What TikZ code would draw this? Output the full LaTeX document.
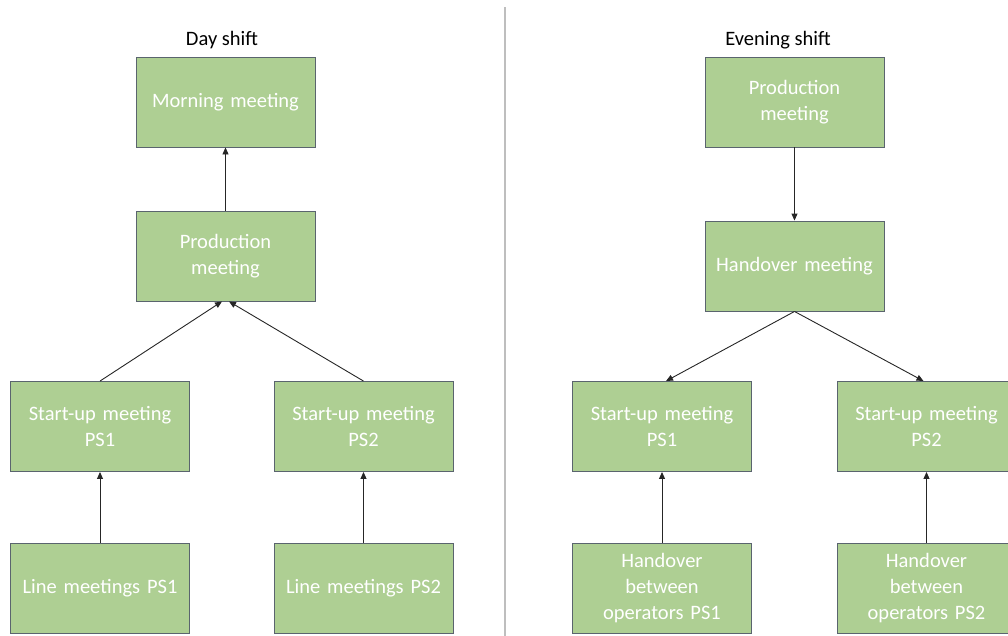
\documentclass[tikz,border=0pt]{standalone}
\usepackage{fontspec}
\setmainfont{Carlito}
\usepackage{xcolor}
\usetikzlibrary{arrows.meta}

\definecolor{boxgreen}{RGB}{174,207,147}
\definecolor{boxline}{RGB}{90,100,110}
\definecolor{sepgray}{RGB}{190,190,190}

\tikzset{
  meeting/.style={draw=boxline, line width=0.9pt, fill=boxgreen, minimum width=179pt,
    minimum height=90pt, text width=170pt, align=center, text=white,
    font=\fontsize{20.5}{26}\selectfont, inner sep=0pt},
  shift title/.style={font=\fontsize{20.5}{26}\selectfont},
  arr/.style={-{Triangle[length=7pt,width=6pt]}, line width=0.9pt, black!85}
}

\begin{document}
\begin{tikzpicture}[x=1pt,y=-1pt]
  \useasboundingbox (0,0) rectangle (1008,635);
  \clip (0,0) rectangle (1008,635);
  % separator
  \draw[sepgray, line width=1.6pt] (505,7) -- (505,640);

  % day shift
  \node[shift title] (dayT) at (222,40) {Day shift};
  \node[meeting] (morning) at (225.5,102) {Morning meeting};
  \node[meeting] (prodD) at (225.5,256) {Production\\meeting};
  \node[meeting] (startD1) at (100,426.5) {Start-up meeting\\PS1};
  \node[meeting] (startD2) at (363.5,426.5) {Start-up meeting\\PS2};
  \node[meeting] (line1) at (100,588) {Line meetings PS1};
  \node[meeting] (line2) at (363.5,588) {Line meetings PS2};

  \draw[arr] (prodD) -- (morning);
  \draw[arr] (startD1.north) -- ([xshift=-3.5pt]prodD.south);
  \draw[arr] (startD2.north) -- ([xshift=3.5pt]prodD.south);
  \draw[arr] (line1) -- (startD1);
  \draw[arr] (line2) -- (startD2);

  % evening shift
  \node[shift title] (eveT) at (778,40) {Evening shift};
  \node[meeting] (prodE) at (794.5,102) {Production\\meeting};
  \node[meeting] (handover) at (794.5,266) {Handover meeting};
  \node[meeting] (startE1) at (662,426.5) {Start-up meeting\\PS1};
  \node[meeting] (startE2) at (926.5,426.5) {Start-up meeting\\PS2};
  \node[meeting] (opsE1) at (662,588) {Handover\\between\\operators PS1};
  \node[meeting] (opsE2) at (926.5,588) {Handover\\between\\operators PS2};

  \draw[arr] (prodE) -- (handover);
  \draw[arr] (handover.south) -- ([xshift=4pt]startE1.north);
  \draw[arr] (handover.south) -- ([xshift=-3pt]startE2.north);
  \draw[arr] (opsE1) -- (startE1);
  \draw[arr] (opsE2) -- (startE2);
\end{tikzpicture}
\end{document}
